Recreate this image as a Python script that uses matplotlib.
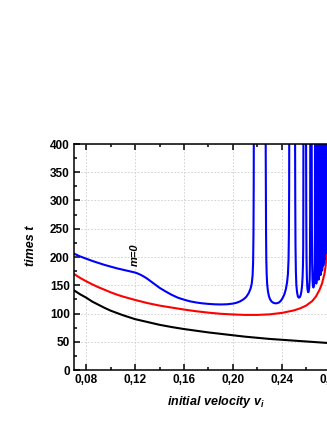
import numpy as np
import matplotlib
matplotlib.use("Agg")
import matplotlib.pyplot as plt
from matplotlib.ticker import FixedLocator, FixedFormatter, MultipleLocator

plt.rcParams['font.family'] = ['Liberation Sans', 'DejaVu Sans']
plt.rcParams['mathtext.fontset'] = 'custom'
plt.rcParams['mathtext.it'] = 'Liberation Sans:bold:italic'
plt.rcParams['mathtext.rm'] = 'Liberation Sans:bold'

# ---- data ----
black_v = [0.070, 0.075, 0.080, 0.085, 0.090, 0.095, 0.100, 0.105, 0.110, 0.115, 0.120, 0.130, 0.140,
           0.150, 0.160, 0.170, 0.180, 0.190, 0.200, 0.210, 0.220, 0.230, 0.240, 0.250, 0.260, 0.270,
           0.280, 0.300]
black_t = [141, 134, 128, 121, 115.5, 110, 105, 101, 97, 93.5, 90, 85, 80,
           76, 72.5, 69.5, 66.5, 64, 61.5, 59, 57, 55, 53.5, 52, 50.5, 49,
           47.5, 45]

red_v = [0.070, 0.075, 0.080, 0.085, 0.090, 0.095, 0.100, 0.105, 0.110, 0.115, 0.120, 0.130, 0.140,
         0.150, 0.160, 0.170, 0.180, 0.190, 0.200, 0.210, 0.220, 0.230, 0.240, 0.250, 0.255, 0.260,
         0.265, 0.268, 0.271, 0.273, 0.275, 0.276, 0.277, 0.2775, 0.278, 0.2785, 0.279, 0.2795]
red_t = [170, 163, 157, 151.5, 146.5, 142, 137.5, 133.5, 130, 127, 124, 118.5, 114,
         110.5, 107, 104, 101.5, 99.5, 98.3, 97.5, 97.5, 98.5, 101, 105.5, 109, 114,
         122, 130, 142, 153, 170, 185, 210, 232, 262, 300, 360, 450]

nan = float('nan')
blue_v = [
    0.070, 0.075, 0.080, 0.085, 0.090, 0.095, 0.100, 0.105, 0.110, 0.115, 0.120, 0.1225, 0.125,
    0.1275, 0.130, 0.1325, 0.135, 0.1375, 0.140, 0.145, 0.150, 0.155, 0.160, 0.165, 0.170, 0.175,
    0.180, 0.185, 0.190, 0.195, 0.200, 0.203, 0.206, 0.209, 0.211, 0.213, 0.2145, 0.2155, 0.2162,
    0.2166, 0.2169, 0.2171, 0.2172, nan,
    0.2268, 0.2270, 0.2272, 0.2274, 0.2277, 0.2281, 0.2287, 0.2295, 0.2305, 0.2318, 0.2333, 0.2348,
    0.2362, 0.2378, 0.2393, 0.2408, 0.2422, 0.2434, 0.2444, 0.2451, 0.2456, 0.2459, 0.2461, 0.2462, nan,
    0.2509, 0.2511, 0.2513, 0.2516, 0.2520, 0.2526, 0.2533, 0.2541, 0.2549, 0.2556, 0.2562, 0.2567,
    0.2571, 0.2574, 0.2576, 0.2577, 0.2578, nan,
    0.2599, 0.2601, 0.2603, 0.2606, 0.2610, 0.2615, 0.2620, 0.2625, 0.2629, 0.2631, 0.2633, 0.2634, nan,
    0.2645, 0.2647, 0.2649, 0.2652, 0.2656, 0.2660, 0.2664, 0.2667, 0.2670, 0.2672, 0.2673, nan,
    0.2675, 0.2677, 0.2680, 0.2683, 0.2687, 0.2690, 0.2692, nan,
    0.2695, 0.2697, 0.2700, 0.2702, 0.2705, 0.2708, 0.2709, nan,
    0.2712, 0.2714, 0.2716, 0.2718, 0.2720, 0.2722, 0.2723, nan,
    0.2726, 0.2728, 0.2730, 0.2731, 0.2733, 0.2734, 0.2735, nan,
    0.2737, 0.2739, 0.2741, 0.2743, 0.2744, 0.2745, nan,
    0.2747, 0.2749, 0.2751, 0.2752, 0.2753, 0.2754, nan,
    0.2756, 0.2758, 0.2759, 0.2761, 0.2762, nan,
    0.2764, 0.2766, 0.2768, nan,
    0.2769, 0.2771, 0.2773, nan,
    0.2774, 0.2776, 0.2777,
]
blue_t = [
    206, 201, 197, 193, 189.5, 186, 183, 180, 177.5, 175, 172.5, 170.5, 168,
    165, 161.5, 157.5, 153.5, 149.5, 145.5, 139, 133, 128, 124.5, 121.5, 119.5, 118,
    117, 116.3, 116, 116.3, 117.5, 119, 121.5, 125.5, 129.5, 136, 144, 153, 168,
    190, 240, 330, 450, nan,
    450, 330, 240, 195, 170, 152, 140, 131, 125, 121, 118.8, 118,
    118.2, 119.5, 122.5, 127.5, 134, 143, 155, 170, 195, 240, 320, 450, nan,
    450, 300, 220, 175, 150, 137, 130, 128, 129, 133, 140, 150,
    165, 185, 215, 280, 450, nan,
    450, 280, 200, 163, 145, 138, 138, 145, 160, 185, 280, 450, nan,
    450, 260, 190, 160, 148, 146, 150, 162, 190, 240, 450, nan,
    450, 200, 160, 153, 158, 190, 450, nan,
    450, 200, 165, 160, 165, 200, 450, nan,
    450, 210, 173, 168, 173, 210, 450, nan,
    450, 215, 180, 176, 181, 215, 450, nan,
    450, 215, 185, 190, 220, 450, nan,
    450, 225, 195, 198, 225, 450, nan,
    450, 230, 206, 230, 450, nan,
    450, 222, 450, nan,
    450, 245, 450, nan,
    450, 275, 450,
]

x_ticks = [0.08, 0.12, 0.16, 0.20, 0.24, 0.28]
x_tick_labels = ['0,08', '0,12', '0,16', '0,20', '0,24', '0,28']
y_ticks = [0, 50, 100, 150, 200, 250, 300, 350, 400]
y_tick_labels = ['0', '50', '100', '150', '200', '250', '300', '350', '400']

# ---- figure ----
fig = plt.figure(figsize=(3.27, 4.23), dpi=100)
ax = fig.add_axes([74/327, 53/423, 281/327, 226/423])

ax.plot(black_v, black_t, color='black', lw=1.5)
ax.plot(red_v, red_t, color='#ff0000', lw=1.5)
ax.plot(blue_v, blue_t, color='#0000ff', lw=1.5)

ax.set_xlim(0.07, 0.30)
ax.set_ylim(0, 400)

ax.xaxis.set_major_locator(FixedLocator(x_ticks))
ax.xaxis.set_major_formatter(FixedFormatter(x_tick_labels))
ax.xaxis.set_minor_locator(MultipleLocator(0.02))
ax.yaxis.set_major_locator(FixedLocator(y_ticks))
ax.yaxis.set_major_formatter(FixedFormatter(y_tick_labels))
ax.yaxis.set_minor_locator(MultipleLocator(25))

ax.tick_params(which='both', direction='in', top=True, right=True, width=1.1)
ax.tick_params(which='major', length=4)
ax.tick_params(which='minor', length=2.5)
ax.tick_params(axis='both', which='major', labelsize=8.5, pad=3)
for lab in ax.get_xticklabels() + ax.get_yticklabels():
    lab.set_fontweight('bold')

for s in ax.spines.values():
    s.set_linewidth(1.1)

ax.grid(True, which='major', color='#cccccc', linestyle=(0, (2, 2)), linewidth=0.6)
ax.set_axisbelow(True)

ax.set_ylabel('times t', fontsize=9, fontweight='bold', fontstyle='italic')
ax.yaxis.set_label_coords(-0.13, 0.55)
ax.set_xlabel('initial velocity $v_i$', fontsize=9, fontweight='bold', fontstyle='italic')
ax.xaxis.set_label_coords(0.505, -0.105)

ax.text(0.12, 204, 'm=0', rotation=90, fontsize=8, fontweight='bold', fontstyle='italic',
        ha='center', va='center')

fig.savefig('out.png', dpi=100)
